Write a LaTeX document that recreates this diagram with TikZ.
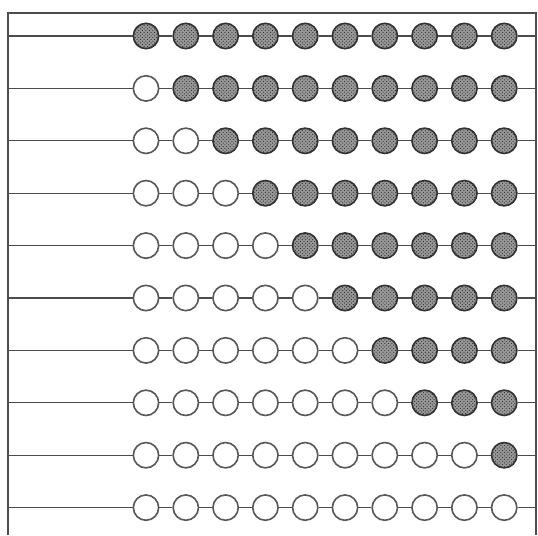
\documentclass[tikz,border=0pt]{standalone}
\usepackage{tikz}
\usetikzlibrary{patterns}

\begin{document}
\begin{tikzpicture}[
  x=0.03cm, y=-0.03cm,
  wire/.style={draw=black!70, line width=1.1pt},
  openbead/.style={circle, draw=black!65, line width=1.4pt, fill=white, inner sep=0pt, minimum size=0.76cm},
  fullbead/.style={circle, draw=black!80, line width=1.4pt, inner sep=0pt, minimum size=0.76cm,
    preaction={fill=black!40}, pattern=crosshatch dots, pattern color=black!85}
]
\useasboundingbox (0,0) rectangle (538,535);

% Frame
\coordinate (tl) at (8,13);
\coordinate (tr) at (536,13);
\coordinate (bl) at (8,535);
\coordinate (br) at (536,535);
\draw[wire] (bl) -- (tl) -- (tr) -- (br);

% Rows of beads (number of open beads per row)
\foreach \nopen [count=\r from 0] in {0,1,2,3,4,5,6,7,9,10} {
  \coordinate (w-\r) at (8,{36+\r*52.4});
  \coordinate (e-\r) at (536,{36+\r*52.4});
  \foreach \c in {0,...,9} {
    \ifnum\c<\nopen\def\bs{openbead}\else\def\bs{fullbead}\fi
    \node[\bs] (b-\r-\c) at ({146+\c*39.8},{36+\r*52.4}) {};
  }
  % Wires
  \draw[wire] (w-\r) -- (b-\r-0);
  \foreach \c [remember=\c as \p (initially 0)] in {1,...,9}
    \draw[wire] (b-\r-\p) -- (b-\r-\c);
  \draw[wire] (b-\r-9) -- (e-\r);
}

\end{tikzpicture}
\end{document}
